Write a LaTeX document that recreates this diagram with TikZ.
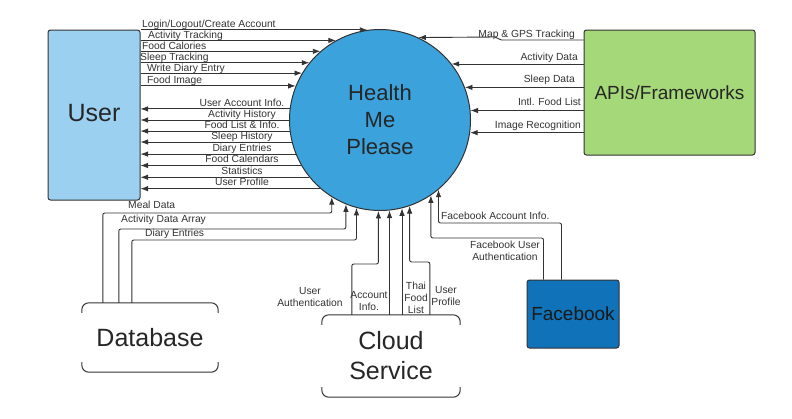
\documentclass[tikz,border=0pt]{standalone}
\usepackage{fontspec}
\setmainfont{Liberation Sans}
\usetikzlibrary{arrows.meta,positioning}
\definecolor{userblue}{RGB}{155,208,240}
\definecolor{hmpblue}{RGB}{59,162,220}
\definecolor{apigreen}{RGB}{165,216,120}
\definecolor{fbblue}{RGB}{16,114,184}
\definecolor{edge}{RGB}{51,51,51}
\tikzset{
  >={Latex[length=7.5pt,width=5.5pt]},
  block/.style={draw=edge,line width=1pt,rounded corners=2.5pt,align=center,inner sep=0pt},
  store/.style={draw=edge,line width=1pt,rounded corners=7pt},
  arrow/.style={->,draw=edge,line width=0.9pt,rounded corners=2pt},
  lbl/.style={font=\fontsize{10.3}{12}\selectfont,text=edge,inner sep=0pt},
  big/.style={font=\fontsize{25}{30}\selectfont,text=black!85},
}

\begin{document}
\begin{tikzpicture}[x=1pt,y=-1pt]
  \path[use as bounding box,fill=white] (0,0) rectangle (792,418);
  % entities
  \node[block,fill=userblue,minimum width=92pt,minimum height=170pt,big] (user) at (94,115) {\raisebox{4pt}{User}};
  \node[circle,draw=edge,line width=1pt,fill=hmpblue,minimum size=181pt,inner sep=0pt,align=center,
        font=\fontsize{22}{27}\selectfont,text=black!85] (hmp) at (380,120) {Health\\Me\\Please};
  \node[block,fill=apigreen,minimum width=171pt,minimum height=125pt,font=\fontsize{19}{23}\selectfont,text=black!85] (apis) at (669.5,92.5) {APIs/Frameworks};
  \node[block,fill=fbblue,minimum width=92pt,minimum height=68pt,font=\fontsize{19}{23}\selectfont,text=black!90] (fb) at (573,314) {Facebook};
  \node[minimum width=136pt,minimum height=69pt,big] (db) at (150,337.5) {Database};
  \node[minimum width=138pt,minimum height=82pt,big,align=center] (cloud) at (391,356) {Cloud\\Service};
  \draw[store] ([yshift=-10pt]db.north west) -- (db.north west) -- (db.north east) -- ([yshift=-10pt]db.north east);
  \draw[store] ([yshift=10pt]db.south west) -- (db.south west) -- (db.south east) -- ([yshift=10pt]db.south east);
  \draw[store] ([yshift=-10pt]cloud.north west) -- (cloud.north west) -- (cloud.north east) -- ([yshift=-10pt]cloud.north east);
  \draw[store] ([yshift=10pt]cloud.south west) -- (cloud.south west) -- (cloud.south east) -- ([yshift=10pt]cloud.south east);

  % user -> system
  \draw[arrow] (hmp.98.5 -| user.east) -- (hmp.98.5);
  \draw[arrow] (hmp.119.8 -| user.east) -- (hmp.119.8);
  \draw[arrow] (hmp.131.6 -| user.east) -- (hmp.131.6);
  \draw[arrow] (hmp.141.2 -| user.east) -- (hmp.141.2);
  \draw[arrow] (hmp.149.6 -| user.east) -- (hmp.149.6);
  \draw[arrow] (hmp.158.4 -| user.east) -- (hmp.158.4);
  \node[lbl,anchor=base west] (tlogin) at (142,27) {Login/Logout/Create Account};
  \node[lbl,anchor=base west] (tacttrack) at (148,38) {Activity Tracking};
  \node[lbl,anchor=base west] (tfoodcal) at (142,49) {Food Calories};
  \node[lbl,anchor=base west] (tsleeptrack) at (140,60) {Sleep Tracking};
  \node[lbl,anchor=base west] (tdiary) at (147,71) {Write Diary Entry};
  \node[lbl,anchor=base west] (tfoodimg) at (147,83.5) {Food Image};

  % system -> user
  \draw[arrow] (hmp.173.7) -- (hmp.173.7 -| user.east);
  \draw[arrow] (hmp.180.6) -- (hmp.180.6 -| user.east);
  \draw[arrow] (hmp.187.8) -- (hmp.187.8 -| user.east);
  \draw[arrow] (hmp.194.8) -- (hmp.194.8 -| user.east);
  \draw[arrow] (hmp.202.6) -- (hmp.202.6 -| user.east);
  \draw[arrow] (hmp.210.4) -- (hmp.210.4 -| user.east);
  \draw[arrow] (hmp.219.4) -- (hmp.219.4 -| user.east);
  \draw[arrow] (hmp.229.3) -- (hmp.229.3 -| user.east);
  \node[lbl,anchor=base] (taccinfo) at (242,106.5) {User Account Info.};
  \node[lbl,anchor=base] (tacthist) at (242,117.5) {Activity History};
  \node[lbl,anchor=base] (tfoodlist) at (242,128.8) {Food List \& Info.};
  \node[lbl,anchor=base] (tsleephist) at (242,139.8) {Sleep History};
  \node[lbl,anchor=base] (tentries) at (242,151.5) {Diary Entries};
  \node[lbl,anchor=base] (tfoodcals) at (242,162.5) {Food Calendars};
  \node[lbl,anchor=base] (tstats) at (242,174.2) {Statistics};
  \node[lbl,anchor=base] (tprofile) at (242,185.5) {User Profile};

  % apis -> system
  \draw[arrow] (apis.west |- 0,40) -- ++(-84,0) -- ++(-3,-3) -- (hmp.65.8);
  \draw[arrow] (hmp.38 -| apis.west) -- (hmp.38);
  \draw[arrow] (hmp.21.3 -| apis.west) -- (hmp.21.3);
  \draw[arrow] (hmp.6.3 -| apis.west) -- (hmp.6.3);
  \draw[arrow] (hmp.352.4 -| apis.west) -- (hmp.352.4);
  \node[lbl,anchor=base east] (tgps) at (575,37.5) {Map \& GPS Tracking};
  \node[lbl,anchor=base east] (tactdata) at (578,60.7) {Activity Data};
  \node[lbl,anchor=base east] (tsleepdata) at (575,82.7) {Sleep Data};
  \node[lbl,anchor=base east] (tintl) at (581,105.7) {Intl. Food List};
  \node[lbl,anchor=base east] (timgrec) at (581,128) {Image Recognition};

  % database -> system
  \draw[arrow] ([xshift=21pt]db.north west) |- (hmp.238.2 |- 0,213) -- (hmp.238.2);
  \draw[arrow] ([xshift=37pt]db.north west) |- (hmp.248.7 |- 0,229) -- (hmp.248.7);
  \draw[arrow] ([xshift=50pt]db.north west) |- (hmp.255.4 |- 0,240) -- (hmp.255.4);
  \node[lbl,anchor=base west] (tmeal) at (128,208.3) {Meal Data};
  \node[lbl,anchor=base west] (tactarray) at (121,222.7) {Activity Data Array};
  \node[lbl,anchor=base west] (tdbentries) at (145,236.7) {Diary Entries};

  % cloud -> system
  \draw[arrow] ([xshift=30pt]cloud.north west) |- (hmp.269.4 |- 0,264) -- (hmp.269.4);
  \draw[arrow] (hmp.276.9 |- cloud.north) -- (hmp.276.9);
  \draw[arrow] (hmp.284 |- cloud.north) -- (hmp.284);
  \draw[arrow] ([xshift=108pt]cloud.north west) |- (hmp.289.2 |- 0,262) -- (hmp.289.2);
  \node[lbl,align=center] (tuserauth) at (310,297) {User\\Authentication};
  \node[lbl,align=center] (tcloudacc) at (369,301) {Account\\Info.};
  \node[lbl,align=center] (tthai) at (416,298) {Thai\\Food\\List};
  \node[lbl,align=center] (tcloudprof) at (446,296) {User\\Profile};

  % facebook -> system
  \draw[arrow] ([xshift=17pt]fb.north west) |- (hmp.304.8 |- 0,238) -- (hmp.304.8);
  \draw[arrow] ([xshift=35pt]fb.north west) |- (hmp.310.4 |- 0,223) -- (hmp.310.4);
  \node[lbl,anchor=base west] (tfbacc) at (441,219) {Facebook Account Info.};
  \node[lbl,align=center] (tfbauth) at (505,251) {Facebook User\\Authentication};
\end{tikzpicture}
\end{document}
